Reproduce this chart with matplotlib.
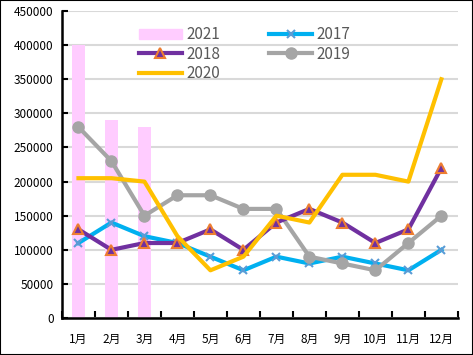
import numpy as np
import matplotlib.pyplot as plt
from matplotlib.patches import Patch
from matplotlib.lines import Line2D

plt.rcParams['font.family'] = ['Noto Sans CJK SC', 'DejaVu Sans']

months = ["1月", "2月", "3月", "4月", "5月", "6月", "7月", "8月", "9月", "10月", "11月", "12月"]
y2021 = [400000, 290000, 280000]
y2017 = [110000, 140000, 120000, 110000, 90000, 70000, 90000, 80000, 90000, 80000, 70000, 100000]
y2018 = [130000, 100000, 110000, 110000, 130000, 100000, 140000, 160000, 140000, 110000, 130000, 220000]
y2019 = [280000, 230000, 150000, 180000, 180000, 160000, 160000, 90000, 80000, 70000, 110000, 150000]
y2020 = [205000, 205000, 200000, 120000, 70000, 90000, 150000, 140000, 210000, 210000, 200000, 350000]

x = np.arange(len(months))

fig = plt.figure(figsize=(4.73, 3.55), dpi=100)
ax = fig.add_axes([0.131, 0.104, 0.837, 0.865])

ax.bar(x[:len(y2021)], y2021, width=0.38, color="#FFCCFF", zorder=2)
ax.plot(x, y2017, color="#00B0F0", lw=3, marker="x", ms=6, mec="#5B9BD5", mew=1.5, zorder=3)
ax.plot(x, y2018, color="#7030A0", lw=3, marker="^", ms=7, mfc="#7030A0", mec="#ED7D31", mew=1.5, zorder=4)
ax.plot(x, y2019, color="#A5A5A5", lw=3, marker="o", ms=8, zorder=3)
ax.plot(x, y2020, color="#FFC000", lw=3, zorder=5)

ax.set_xlim(-0.5, 11.5)
ax.set_ylim(0, 450000)
ax.set_yticks(np.arange(0, 450001, 50000))
ax.set_xticks(x)
ax.set_xticklabels(months)
ax.set_xticks(np.arange(-0.5, 12, 1), minor=True)
ax.tick_params(axis="x", which="major", length=0, labelsize=8.5, pad=11)
ax.tick_params(axis="x", which="minor", direction="in", length=5, width=1.5)
ax.tick_params(axis="y", direction="in", length=4, width=1.5, labelsize=8.5, pad=6)
ax.grid(axis="y", color="#D9D9D9", lw=1.5, zorder=0)
ax.set_axisbelow(True)
for s in ["top", "right"]:
    ax.spines[s].set_visible(False)
for s in ["left", "bottom"]:
    ax.spines[s].set_linewidth(1.8)

handles = [
    Patch(color="#FFCCFF"),
    Line2D([], [], color="#7030A0", lw=3, marker="^", ms=7, mec="#ED7D31", mew=1.5),
    Line2D([], [], color="#FFC000", lw=3),
    Line2D([], [], color="#00B0F0", lw=3, marker="x", ms=6, mec="#5B9BD5", mew=1.5),
    Line2D([], [], color="#A5A5A5", lw=3, marker="o", ms=8),
]
labels = ["2021", "2018", "2020", "2017", "2019"]
leg = ax.legend(handles, labels, ncol=2, loc="upper left", bbox_to_anchor=(0.16, 0.995),
                frameon=False, fontsize=11, handlelength=2.8, columnspacing=3.2,
                labelspacing=0.15, handletextpad=0.3)
for t in leg.get_texts():
    t.set_color("#595959")

fig.patches.append(plt.Rectangle((0, 0), 1, 1, transform=fig.transFigure,
                                 fill=False, edgecolor="black", lw=1.5))
fig.savefig("out.png", dpi=100)
